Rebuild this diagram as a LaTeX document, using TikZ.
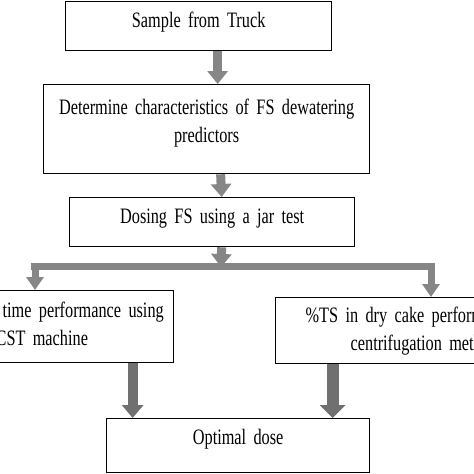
\documentclass[tikz,border=0pt]{standalone}
\usepackage{fontspec}
\setmainfont{Liberation Serif}[FakeStretch=0.74]
\usetikzlibrary{arrows.meta}
\definecolor{arrgray}{HTML}{868686}
\definecolor{arrdark}{HTML}{707070}
\newcommand{\boxfont}{\fontsize{22}{28}\selectfont\fontdimen2\font=3.2pt\fontdimen3\font=0pt\fontdimen4\font=0pt\relax}
\begin{document}
\begin{tikzpicture}[x=1pt,y=-1pt,
  box/.style={draw=black, line width=1.3pt, fill=white, anchor=north west,
    inner sep=0pt, font=\boxfont, align=center},
  arr/.style={draw=arrgray, line width=9pt, -{Triangle[width=20pt,length=13pt]}},
  arrbig/.style={draw=arrdark, line width=#1, -{Triangle[width=2.1*#1,length=13pt]}},
  splitbar/.style={draw=arrgray, line width=7pt},
]
\useasboundingbox[fill=white] (0,0) rectangle (474,474);

\node[box, text width=266pt, text height=26pt, text depth=23pt] (b1) at (65,1) {Sample from Truck};
\node[box, text width=326pt, text height=30pt, text depth=59pt] (b2) at (43,84) {Determine characteristics of FS dewatering\\predictors};
\node[box, text width=285pt, text height=26pt, text depth=23pt] (b3) at (69,197) {Dosing FS using a jar test};
\node[box, align=left, text width=177pt, text height=27pt, text depth=45pt] (lft) at (-4,290)
  {\hspace*{6pt}time performance using\\\hspace*{-1pt}CST machine};
\node[box, align=left, text width=285pt, text height=25pt, text depth=41pt] (rgt) at (275,297)
  {\hspace*{30pt}\%TS in dry cake performance\\\hspace*{75pt}centrifugation method};
\node[box, text width=263pt, text height=26pt, text depth=28pt] (b4) at (106,418) {Optimal dose};

\coordinate (split) at (221,267);
\coordinate (bl) at (31,266.5);
\coordinate (br) at (435,266.5);
\coordinate (dl) at (35,266.5);
\coordinate (dr) at (431,266.5);

\draw[arr] ([xshift=19pt]b1.south) -- ([xshift=11pt]b2.north);
\draw[arr] ([xshift=14pt]b2.south) -- ([xshift=9.5pt]b3.north);
\draw[arr] ([xshift=9.5pt]b3.south) -- (split);
\draw[splitbar] (bl) -- (br);
\draw[arr, line width=7pt, -{Triangle[width=17pt,length=13pt]}] ([yshift=-3.5pt]dl) -- (dl |- lft.north);
\draw[arr, line width=7pt, -{Triangle[width=17pt,length=13pt]}] ([yshift=-3.5pt]dr) -- (dr |- rgt.north);
\draw[arrbig=10pt] ([xshift=47.5pt]lft.south) -- ([xshift=-105.5pt]b4.north);
\draw[arrbig=12pt] ([xshift=-85.5pt]rgt.south) -- ([xshift=94.5pt]b4.north);
\end{tikzpicture}
\end{document}
